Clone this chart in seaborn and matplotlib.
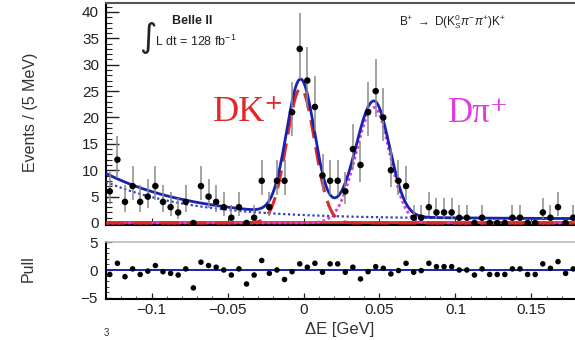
import numpy as np
import pandas as pd
import matplotlib
matplotlib.use("Agg")
import matplotlib.pyplot as plt
import seaborn as sns
from matplotlib.ticker import MultipleLocator, FixedLocator

# ---------------- data ----------------
bin_low = -0.13          # GeV, lower edge of first bin
bin_width = 0.005        # 5 MeV bins
counts = [6, 12, 4, 7, 4, 5, 7, 4, 3, 2, 4, 0, 7, 5, 4, 3, 1, 3, 0, 1,
          8, 3, 8, 8, 21, 33, 27, 22, 9, 8, 8, 6, 14, 11, 21, 25, 20, 10, 8, 7,
          1, 1, 3, 2, 2, 2, 1, 1, 0, 1, 0, 0, 0, 1, 1, 0, 0, 2, 1, 3, 0, 1]
pulls = [-0.8, 1.2, -1.2, 0.2, -0.8, -0.2, 0.8, -0.3, -0.6, -0.9, 0.2, -3.2,
         1.4, 0.8, 0.5, 0.0, -0.9, 0.2, -2.5, -0.9, 1.7, -0.6, 0.0, -1.7,
         -0.3, 1.1, 0.5, 1.2, -0.4, 1.1, 1.1, -0.4, 0.5, -1.6, -0.3, 0.6,
         0.3, -0.7, -0.1, 1.2, -0.4, -0.1, 1.2, 0.6, 0.6, 0.6, 0.0, 0.0,
         -0.9, 0.2, -0.8, -0.8, -0.8, 0.2, 0.2, -0.8, -0.8, 1.1, 0.3, 1.5,
         -0.6, 0.2]

# fit-component parameters
dk_amp, dk_mean, dk_sigma = 25.5, -0.0019, 0.0092
dpi_amp, dpi_mean, dpi_sig_l, dpi_sig_r = 21.9, 0.0464, 0.0118, 0.0102
bkg_const, bkg_amp, bkg_tau = 0.8, 7.0, 0.0566
extra_amp, extra_tau = 1.6, 0.07

x_range = (-0.13, 0.18)
y_ticks_top = [0, 5, 10, 15, 20, 25, 30, 35, 40]
x_ticks = [-0.1, -0.05, 0, 0.05, 0.1, 0.15]
x_tick_labels = ["\u22120.1", "\u22120.05", "0", "0.05", "0.1", "0.15"]
pull_ticks = [-5, 0, 5]
pull_tick_labels = ["\u22125", "0", "5"]

# ---------------- derived tables ----------------
n = np.array(counts, dtype=float)
centers = bin_low + bin_width * (np.arange(len(counts)) + 0.5)
err_up = np.where(n > 0, np.sqrt(n + 0.75) + 1.0, 0.0)
err_lo = np.where(n > 0, n - n * (1 - 1 / (9 * np.maximum(n, 1)) - 1 / (3 * np.sqrt(np.maximum(n, 1)))) ** 3, 0.0)
data = pd.DataFrame({"x": centers, "n": n, "pull": pulls})

xs = np.linspace(x_range[0], x_range[1], 800)
dk = dk_amp * np.exp(-0.5 * ((xs - dk_mean) / dk_sigma) ** 2)
sig = np.where(xs < dpi_mean, dpi_sig_l, dpi_sig_r)
dpi = dpi_amp * np.exp(-0.5 * ((xs - dpi_mean) / sig) ** 2)
bkg = bkg_const + bkg_amp * np.exp(-(xs - x_range[0]) / bkg_tau)
extra = extra_amp * np.exp(-(xs - x_range[0]) / extra_tau)
total = dk + dpi + bkg + extra
curves = pd.DataFrame({"x": xs, "total": total, "dk": dk, "dpi": dpi, "bkg": bkg})

# ---------------- figure ----------------
sns.set_style("ticks")
plt.rcParams["font.family"] = ["Liberation Sans", "DejaVu Sans"]
plt.rcParams["mathtext.fontset"] = "custom"
plt.rcParams["mathtext.rm"] = "Liberation Sans"
plt.rcParams["mathtext.it"] = "Liberation Sans:italic"
plt.rcParams["mathtext.bf"] = "Liberation Sans:bold"

W, H = 575, 340
fig = plt.figure(figsize=(W / 100, H / 100), dpi=100)
fig.patch.set_facecolor("white")

def fx(px):
    return px / W

def fy(py):
    return 1 - py / H

ax = fig.add_axes([fx(106), fy(225), (577 - 106) / W, (225 - 3) / H])
axp = fig.add_axes([fx(106), fy(298.5), (577 - 106) / W, (298.5 - 241.5) / H])

blue = "#1a22b0"
red = "#e02828"
mag = "#e03ce0"

# zero-level component lines
ax.axhline(0.0, color="#2a8a2a", lw=1.0, zorder=2)
ax.axhline(0.15, color=red, lw=1.3, zorder=2)

sns.lineplot(data=curves, x="x", y="bkg", ax=ax, color="#3040c0", lw=1.6,
             linestyle=(0, (1, 1.2)), zorder=3)
sns.lineplot(data=curves, x="x", y="dpi", ax=ax, color=mag, lw=2.0,
             linestyle=(0, (1, 1)), zorder=4)
sns.lineplot(data=curves, x="x", y="dk", ax=ax, color=red, lw=2.2,
             linestyle=(0, (6, 3)), zorder=4)
sns.lineplot(data=curves, x="x", y="total", ax=ax, color=blue, lw=2.0, zorder=5)

ax.errorbar(data["x"], data["n"], yerr=[err_lo, err_up], fmt="none",
            ecolor="#8a8a8a", elinewidth=1.1, zorder=6)
sns.scatterplot(data=data, x="x", y="n", ax=ax, color="black", s=22,
                edgecolor="none", zorder=7)

ax.set_xlim(*x_range)
ax.set_ylim(-0.38, 41.7)
ax.set_xlabel("")
ax.set_ylabel("")
ax.yaxis.set_major_locator(FixedLocator(y_ticks_top))
ax.yaxis.set_minor_locator(MultipleLocator(1))
ax.xaxis.set_major_locator(FixedLocator(x_ticks))
ax.xaxis.set_minor_locator(MultipleLocator(0.01))
ax.set_yticklabels([str(t) for t in y_ticks_top])
ax.set_xticklabels([])
ax.tick_params(axis="y", which="major", direction="in", length=9, width=1,
               labelsize=11, pad=5, colors="#222222")
ax.tick_params(axis="y", which="minor", direction="in", length=4.5, width=0.8, colors="#222222")
ax.tick_params(axis="x", which="major", direction="in", length=5, width=0.8, colors="#222222")
ax.tick_params(axis="x", which="minor", direction="in", length=2.5, width=0.6, colors="#222222")
for s in ["left", "bottom"]:
    ax.spines[s].set_color("black")
    ax.spines[s].set_linewidth(1.5)
ax.spines["top"].set_color("#555555")
ax.spines["top"].set_linewidth(1.5)
ax.spines["right"].set_visible(False)

# pull panel
axp.axhline(0, color=blue, lw=1.4, zorder=2)
sns.scatterplot(data=data, x="x", y="pull", ax=axp, color="black", s=16,
                edgecolor="none", zorder=3)
axp.set_xlim(*x_range)
axp.set_ylim(-5.1, 5.1)
axp.set_xlabel("")
axp.set_ylabel("")
axp.xaxis.set_major_locator(FixedLocator(x_ticks))
axp.xaxis.set_minor_locator(MultipleLocator(0.01))
axp.set_xticklabels(x_tick_labels)
axp.yaxis.set_major_locator(FixedLocator(pull_ticks))
axp.yaxis.set_minor_locator(MultipleLocator(1))
axp.set_yticklabels(pull_tick_labels)
axp.tick_params(axis="both", which="major", direction="in", length=4, width=0.9,
                labelsize=11, colors="#222222")
axp.tick_params(axis="both", which="minor", direction="in", length=2, width=0.6, colors="#222222")
axp.tick_params(axis="x", pad=3)
axp.tick_params(axis="y", pad=6)
for s in ["left", "bottom"]:
    axp.spines[s].set_color("black")
    axp.spines[s].set_linewidth(1.5)
axp.spines["top"].set_color("#bbbbbb")
axp.spines["top"].set_linewidth(1.2)
axp.spines["right"].set_visible(False)

# texts
fig.text(fx(30), fy(112), "Events / (5 MeV)", rotation=90, ha="center", va="center",
         fontsize=11.5, color="#333333")
fig.text(fx(28), fy(269), "Pull", rotation=90, ha="center", va="center",
         fontsize=11.5, color="#333333")
fig.text(fx(340), fy(322), "\u0394E [GeV]", ha="center", va="top", fontsize=12, color="#333333")
fig.text(fx(104), fy(328), "3", ha="left", va="top", fontsize=7, color="#333333")

fig.text(fx(172), fy(21), "Belle II", ha="left", va="center", fontsize=9,
         fontweight="bold", color="#222222")
fig.text(fx(148), fy(38), "\u222b", ha="center", va="center", fontsize=24,
         family=["DejaVu Sans"], color="#222222")
fig.text(fx(155), fy(41), r"L dt = 128 fb$^{-1}$", ha="left", va="center",
         fontsize=9, color="#222222")
fig.text(fx(399), fy(22), r"B$^{+}$ $\rightarrow$ D(K$^{0}_{S}$$\pi^{-}\pi^{+}$)K$^{+}$",
         ha="left", va="center", fontsize=8.5, color="#222222")

fig.text(fx(213), fy(121), "DK\u207a", ha="left", va="baseline", fontsize=26,
         family=["Liberation Serif", "DejaVu Serif"], color=red)
fig.text(fx(448), fy(122), "D\u03c0\u207a", ha="left", va="baseline", fontsize=25,
         family=["Liberation Serif", "DejaVu Serif"], color=mag)

fig.savefig("out.png", dpi=100, facecolor="white")
